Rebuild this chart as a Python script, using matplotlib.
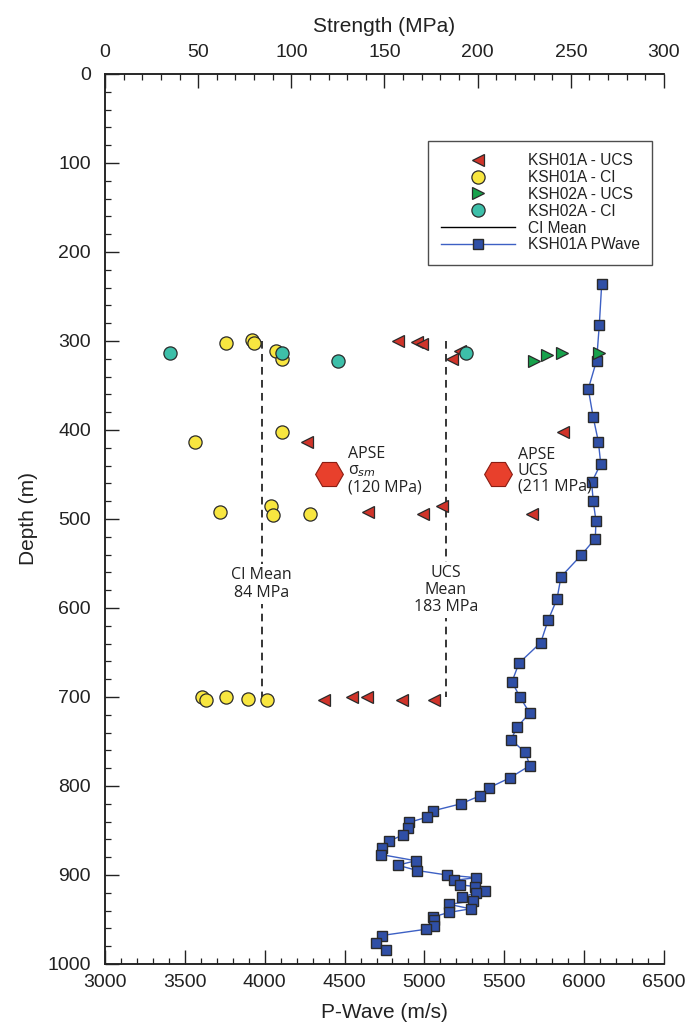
import numpy as np
import matplotlib
matplotlib.use('Agg')
import matplotlib.pyplot as plt
from matplotlib.lines import Line2D
from matplotlib.ticker import MultipleLocator

plt.rcParams['font.family'] = ['Liberation Sans', 'DejaVu Sans']

# strength tests (MPa) vs depth (m)
ucs1_mpa = [157.4, 167.3, 170, 186, 190.5, 246, 108.6, 141.3, 170.9, 181, 229,
            117.5, 132.4, 140.8, 159.6, 176.8]
ucs1_depth = [300, 301, 303, 320, 311, 402, 413, 492, 495, 486, 495,
              703, 700, 700, 703, 703]
ci1_mpa = [65, 78.7, 80.2, 91.6, 95.2, 48.3, 95.2, 61.7, 89.1, 90, 110,
           51.9, 54.2, 65, 77, 86.8]
ci1_depth = [302.6, 299, 302, 311, 320, 413.5, 402, 492.5, 485.4, 495.5, 494.8,
             700, 703, 700, 702.6, 703]
ucs2_mpa = [230, 237, 245, 265]
ucs2_depth = [323, 316, 314, 314]
ci2_mpa = [34.9, 95.2, 124.9, 194]
ci2_depth = [313, 313, 323, 313]

ci_mean = 84
ucs_mean = 183
mean_top, mean_bot = 300, 700
apse_sm = 120
apse_ucs = 211
apse_depth = 449

# P-wave log
pw_depth = [236, 282, 322, 354, 386, 413, 438, 459, 480, 502, 522, 541, 565, 590,
            614, 639, 662, 683, 700, 718, 734, 748, 762, 777, 791, 802, 811, 820,
            828, 835, 841, 847, 855, 862, 870, 877, 884, 889, 895, 900, 903, 906,
            911, 913, 918, 920, 925, 929, 933, 938, 942, 947, 951, 957, 961, 968,
            976, 984]
pw_vel = [6110, 6095, 6078, 6026, 6057, 6089, 6104, 6047, 6057, 6074, 6070, 5980,
          5855, 5830, 5774, 5728, 5592, 5548, 5598, 5659, 5580, 5542, 5630, 5661,
          5534, 5404, 5348, 5229, 5052, 5018, 4901, 4897, 4864, 4780, 4732, 4728,
          4946, 4833, 4956, 5140, 5323, 5187, 5223, 5317, 5381, 5323, 5233, 5306,
          5156, 5289, 5154, 5056, 5060, 5062, 5008, 4732, 4695, 4760]

red = '#d0342a'
yellow = '#f8e640'
green = '#17a24c'
teal = '#3dbfa9'
blue = '#2f4fa6'
ec = '#2a2a2a'

fig = plt.figure(figsize=(6.89, 10.35), dpi=100)
ax = fig.add_axes([0.1524, 0.0686, 0.8113, 0.86])
ax2 = ax.twiny()

# P-wave on bottom axis
pw, = ax.plot(pw_vel, pw_depth, '-', color='#3d60c4', lw=1.0, marker='s', ms=6.8,
              mfc=blue, mec=ec, mew=1.0, zorder=3)
ax.set_xlim(3000, 6500)
ax.set_ylim(1000, 0)

# strength on top axis
kw = dict(ls='none', mec=ec, mew=0.9, zorder=5)
ax2.plot([ci_mean, ci_mean], [mean_top, mean_bot], color='k', lw=1.1,
         ls=(0, (5, 3.5)), zorder=2)
ax2.plot([ucs_mean, ucs_mean], [mean_top, mean_bot], color='k', lw=1.1,
         ls=(0, (5, 3.5)), zorder=2)
h1, = ax2.plot(ucs1_mpa, ucs1_depth, marker='<', ms=8.5, mfc=red, **kw)
h2, = ax2.plot(ci1_mpa, ci1_depth, marker='o', ms=9.5, mfc=yellow, **kw)
h3, = ax2.plot(ucs2_mpa, ucs2_depth, marker='>', ms=8.5, mfc=green, **kw)
h4, = ax2.plot(ci2_mpa, ci2_depth, marker='o', ms=9.5, mfc=teal, **kw)
ax2.plot([apse_sm, apse_ucs], [apse_depth, apse_depth], ls='none', marker='H',
         ms=20, mfc='#e8402c', mec='#8a1c12', mew=0.8, zorder=5)
ax2.set_xlim(0, 300)
ax2.set_ylim(1000, 0)

tfont = dict(family=['Open Sans', 'DejaVu Sans'], fontsize=11.5, color='#222222')
ax2.text(ci_mean, 573, 'CI Mean\n84 MPa', ha='center', va='center',
         linespacing=1.15, zorder=4,
         bbox=dict(fc='white', ec='none', pad=2), **tfont)
ax2.text(ucs_mean, 580, 'UCS\nMean\n183 MPa', ha='center', va='center',
         linespacing=1.1, zorder=4,
         bbox=dict(fc='white', ec='none', pad=2), **tfont)
ax2.annotate('APSE\nσ$_{sm}$\n(120 MPa)', (apse_sm, apse_depth),
             xytext=(14, 2), textcoords='offset points', ha='left', va='center',
             linespacing=1.0, zorder=6, **tfont)
ax2.annotate('APSE\nUCS\n(211 MPa)', (apse_ucs, apse_depth),
             xytext=(14, 2), textcoords='offset points', ha='left', va='center',
             linespacing=1.0, zorder=6, **tfont)

# ticks and spines
for a in (ax, ax2):
    a.spines['right'].set_visible(False)
    for s in a.spines.values():
        s.set_linewidth(1.1)
        s.set_color('#222222')
ax.xaxis.set_major_locator(MultipleLocator(500))
ax.xaxis.set_minor_locator(MultipleLocator(100))
ax.yaxis.set_major_locator(MultipleLocator(100))
ax.yaxis.set_minor_locator(MultipleLocator(20))
ax2.xaxis.set_major_locator(MultipleLocator(50))
ax2.xaxis.set_minor_locator(MultipleLocator(10))
ax.tick_params(which='both', direction='in', labelsize=14, color='#222222',
               labelcolor='#222222', right=False, top=False)
ax.tick_params(which='major', length=10, width=1.0)
ax.tick_params(which='minor', length=4, width=0.9)
ax.tick_params(axis='x', pad=7)
ax.tick_params(axis='y', pad=10)
ax2.tick_params(which='both', direction='in', labelsize=14, color='#222222',
                labelcolor='#222222', pad=9)
ax2.tick_params(which='major', length=10, width=1.0)
ax2.tick_params(which='minor', length=4, width=0.9)

ax.set_xlabel('P-Wave (m/s)', fontsize=15, color='#222222', labelpad=9)
ax.set_ylabel('Depth (m)', fontsize=15, color='#222222', labelpad=7)
ax2.set_xlabel('Strength (MPa)', fontsize=15, color='#222222', labelpad=9)

mean_h = Line2D([], [], color='k', lw=1.0)
leg = ax2.legend([h1, h2, h3, h4, mean_h, pw],
                 ['KSH01A - UCS', 'KSH01A - CI', 'KSH02A - UCS', 'KSH02A - CI',
                  'CI Mean', 'KSH01A PWave'],
                 loc='upper left', bbox_to_anchor=(0.578, 0.925), fontsize=11.2,
                 frameon=True, fancybox=False, edgecolor='#222222',
                 handlelength=4.8, handletextpad=0.8, labelspacing=0.12,
                 borderpad=0.8, borderaxespad=0, numpoints=1)
leg.get_frame().set_linewidth(1.0)
for t in leg.get_texts():
    t.set_color('#222222')

fig.savefig('out.png', dpi=100)
